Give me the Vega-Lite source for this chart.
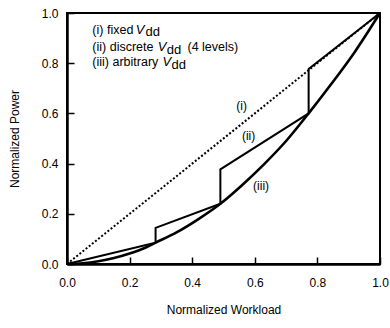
{
  "$schema": "https://vega.github.io/schema/vega-lite/v6.json",
  "width": 313,
  "height": 251,
  "autosize": "none",
  "padding": {"left": 67, "top": 13, "right": 10, "bottom": 64},
  "config": {
    "font": "Liberation Sans",
    "view": {"stroke": "black", "strokeWidth": 2},
    "axis": {"grid": false, "domainColor": "black", "tickColor": "black", "labelColor": "black", "titleColor": "black", "labelFont": "Liberation Sans", "titleFont": "Liberation Sans", "labelFontSize": 12, "titleFontSize": 12, "titleFontWeight": "normal"}
  },
  "datasets": {
    "fixed": [{"x": 0, "y": 0}, {"x": 1, "y": 1}],
    "discrete": [
      {"o": 1, "x": 0, "y": 0},
      {"o": 2, "x": 0.283, "y": 0.085},
      {"o": 3, "x": 0.283, "y": 0.144},
      {"o": 4, "x": 0.49, "y": 0.24},
      {"o": 5, "x": 0.49, "y": 0.377},
      {"o": 6, "x": 0.772, "y": 0.6},
      {"o": 7, "x": 0.772, "y": 0.777},
      {"o": 8, "x": 1, "y": 1}
    ],
    "arbitrary": [
      {"x": 0, "y": 0}, {"x": 0.05, "y": 0.003}, {"x": 0.1, "y": 0.011}, {"x": 0.15, "y": 0.024},
      {"x": 0.2, "y": 0.042}, {"x": 0.25, "y": 0.065}, {"x": 0.283, "y": 0.085}, {"x": 0.35, "y": 0.126},
      {"x": 0.42, "y": 0.179}, {"x": 0.49, "y": 0.24}, {"x": 0.56, "y": 0.315}, {"x": 0.63, "y": 0.398},
      {"x": 0.7, "y": 0.49}, {"x": 0.772, "y": 0.6}, {"x": 0.84, "y": 0.71}, {"x": 0.92, "y": 0.846}, {"x": 1, "y": 1}
    ],
    "legend": [
      {"x": 0.081, "y": 0.918, "t": "(i) fixed", "k": "main"},
      {"x": 0.22, "y": 0.918, "t": "V", "k": "ital"},
      {"x": 0.251, "y": 0.909, "t": "dd", "k": "sub"},
      {"x": 0.081, "y": 0.847, "t": "(ii) discrete", "k": "main"},
      {"x": 0.29, "y": 0.847, "t": "V", "k": "ital"},
      {"x": 0.319, "y": 0.837, "t": "dd", "k": "sub"},
      {"x": 0.385, "y": 0.847, "t": "(4 levels)", "k": "main"},
      {"x": 0.081, "y": 0.787, "t": "(iii) arbitrary", "k": "main"},
      {"x": 0.305, "y": 0.787, "t": "V", "k": "ital"},
      {"x": 0.334, "y": 0.775, "t": "dd", "k": "sub"}
    ],
    "labels": [
      {"x": 0.558, "y": 0.63, "t": "(i)"},
      {"x": 0.58, "y": 0.51, "t": "(ii)"},
      {"x": 0.62, "y": 0.31, "t": "(iii)"}
    ]
  },
  "layer": [
    {
      "data": {"name": "fixed"},
      "mark": {"type": "line", "color": "black", "strokeWidth": 2, "strokeDash": [2, 2]},
      "encoding": {
        "x": {"field": "x", "type": "quantitative", "scale": {"domain": [0, 1], "nice": false, "zero": false},
          "axis": {"values": [0, 0.1, 0.2, 0.3, 0.4, 0.5, 0.6, 0.7, 0.8, 0.9, 1],
            "labelExpr": "round(datum.value*10)%2===0 ? format(datum.value,'.1f') : ''",
            "tickSize": {"condition": {"test": "round(datum.value*10)%2===0", "value": -7}, "value": -4},
            "tickWidth": 1.5, "domainWidth": 2.5, "labelPadding": 20, "labelFlush": false, "labelOverlap": false,
            "title": "Normalized Workload", "titlePadding": 16}},
        "y": {"field": "y", "type": "quantitative", "scale": {"domain": [0, 1], "nice": false, "zero": false},
          "axis": {"values": [0, 0.1, 0.2, 0.3, 0.4, 0.5, 0.6, 0.7, 0.8, 0.9, 1],
            "labelExpr": "round(datum.value*10)%2===0 ? format(datum.value,'.1f') : ''",
            "tickSize": {"condition": {"test": "round(datum.value*10)%2===0", "value": -7}, "value": -4},
            "tickWidth": 1.5, "domainWidth": 2.5, "labelPadding": 16, "labelFlush": false, "labelOverlap": false,
            "title": "Normalized Power", "titlePadding": 20}}
      }
    },
    {
      "data": {"name": "discrete"},
      "mark": {"type": "line", "color": "black", "strokeWidth": 2},
      "encoding": {
        "x": {"field": "x", "type": "quantitative"},
        "y": {"field": "y", "type": "quantitative"},
        "order": {"field": "o"}
      }
    },
    {
      "data": {"name": "arbitrary"},
      "mark": {"type": "line", "color": "black", "strokeWidth": 2.6, "interpolate": "monotone"},
      "encoding": {
        "x": {"field": "x", "type": "quantitative"},
        "y": {"field": "y", "type": "quantitative"}
      }
    },
    {
      "data": {"name": "legend"},
      "transform": [{"filter": "datum.k === 'main'"}],
      "mark": {"type": "text", "align": "left", "baseline": "alphabetic", "fontSize": 12.5, "color": "black"},
      "encoding": {"x": {"field": "x", "type": "quantitative"}, "y": {"field": "y", "type": "quantitative"}, "text": {"field": "t"}}
    },
    {
      "data": {"name": "legend"},
      "transform": [{"filter": "datum.k === 'ital'"}],
      "mark": {"type": "text", "align": "left", "baseline": "alphabetic", "fontSize": 13, "fontStyle": "italic", "color": "black"},
      "encoding": {"x": {"field": "x", "type": "quantitative"}, "y": {"field": "y", "type": "quantitative"}, "text": {"field": "t"}}
    },
    {
      "data": {"name": "legend"},
      "transform": [{"filter": "datum.k === 'sub'"}],
      "mark": {"type": "text", "align": "left", "baseline": "alphabetic", "fontSize": 13, "color": "black"},
      "encoding": {"x": {"field": "x", "type": "quantitative"}, "y": {"field": "y", "type": "quantitative"}, "text": {"field": "t"}}
    },
    {
      "data": {"name": "labels"},
      "mark": {"type": "text", "align": "center", "baseline": "middle", "fontSize": 12, "color": "black"},
      "encoding": {"x": {"field": "x", "type": "quantitative"}, "y": {"field": "y", "type": "quantitative"}, "text": {"field": "t"}}
    }
  ]
}
